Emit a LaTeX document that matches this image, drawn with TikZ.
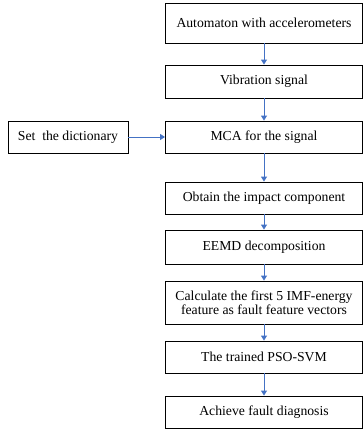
\documentclass[tikz,border=0pt]{standalone}
\usepackage{fontspec}
\setmainfont{Liberation Serif}
\usepackage{tikz}
\usetikzlibrary{positioning, arrows.meta}

\definecolor{flowblue}{RGB}{68,114,196}

\begin{document}
\begin{tikzpicture}[x=1pt, y=-1pt,
	box/.style={rectangle, draw, line width=0.9pt, minimum width=197pt, align=center, inner sep=0pt, font=\fontsize{13.7}{13.9}\selectfont},
	flow/.style={draw=flowblue, line width=0.9pt, -{Triangle[width=6pt,length=5pt]}}]
	\useasboundingbox (0,0) rectangle (363,429);

	% Catena principale
	\node[box, minimum height=40pt] (automa) at (264,23) {Automaton with accelerometers};
	\node[box, minimum height=33pt] (vibra) at (264,81.5) {Vibration signal};
	\node[box, minimum height=32pt] (mca) at (264,137) {MCA for the signal};
	\node[box, minimum height=32pt] (impatto) at (264,198) {Obtain the impact component};
	\node[box, minimum height=34pt] (eemd) at (264,247) {EEMD decomposition};
	\node[box, minimum height=43pt] (energia) at (264,302.5) {Calculate the first 5 IMF-energy\\feature as fault feature vectors};
	\node[box, minimum height=32pt] (svm) at (264,357) {The trained PSO-SVM};
	\node[box, minimum height=32pt] (diagnosi) at (264,412) {Achieve fault diagnosis};

	% Dizionario
	\node[box, minimum width=120pt, minimum height=32pt] (dizionario) at (68,137) {Set\ \ the dictionary};

	% Connessioni
	\draw[flow] (automa) -- (vibra);
	\draw[flow] (vibra) -- (mca);
	\draw[flow] (mca) -- (impatto);
	\draw[flow] (impatto) -- (eemd);
	\draw[flow] (eemd) -- (energia);
	\draw[flow] (energia) -- (svm);
	\draw[flow] (svm) -- (diagnosi);
	\draw[flow] (dizionario) -- (mca);
\end{tikzpicture}
\end{document}
